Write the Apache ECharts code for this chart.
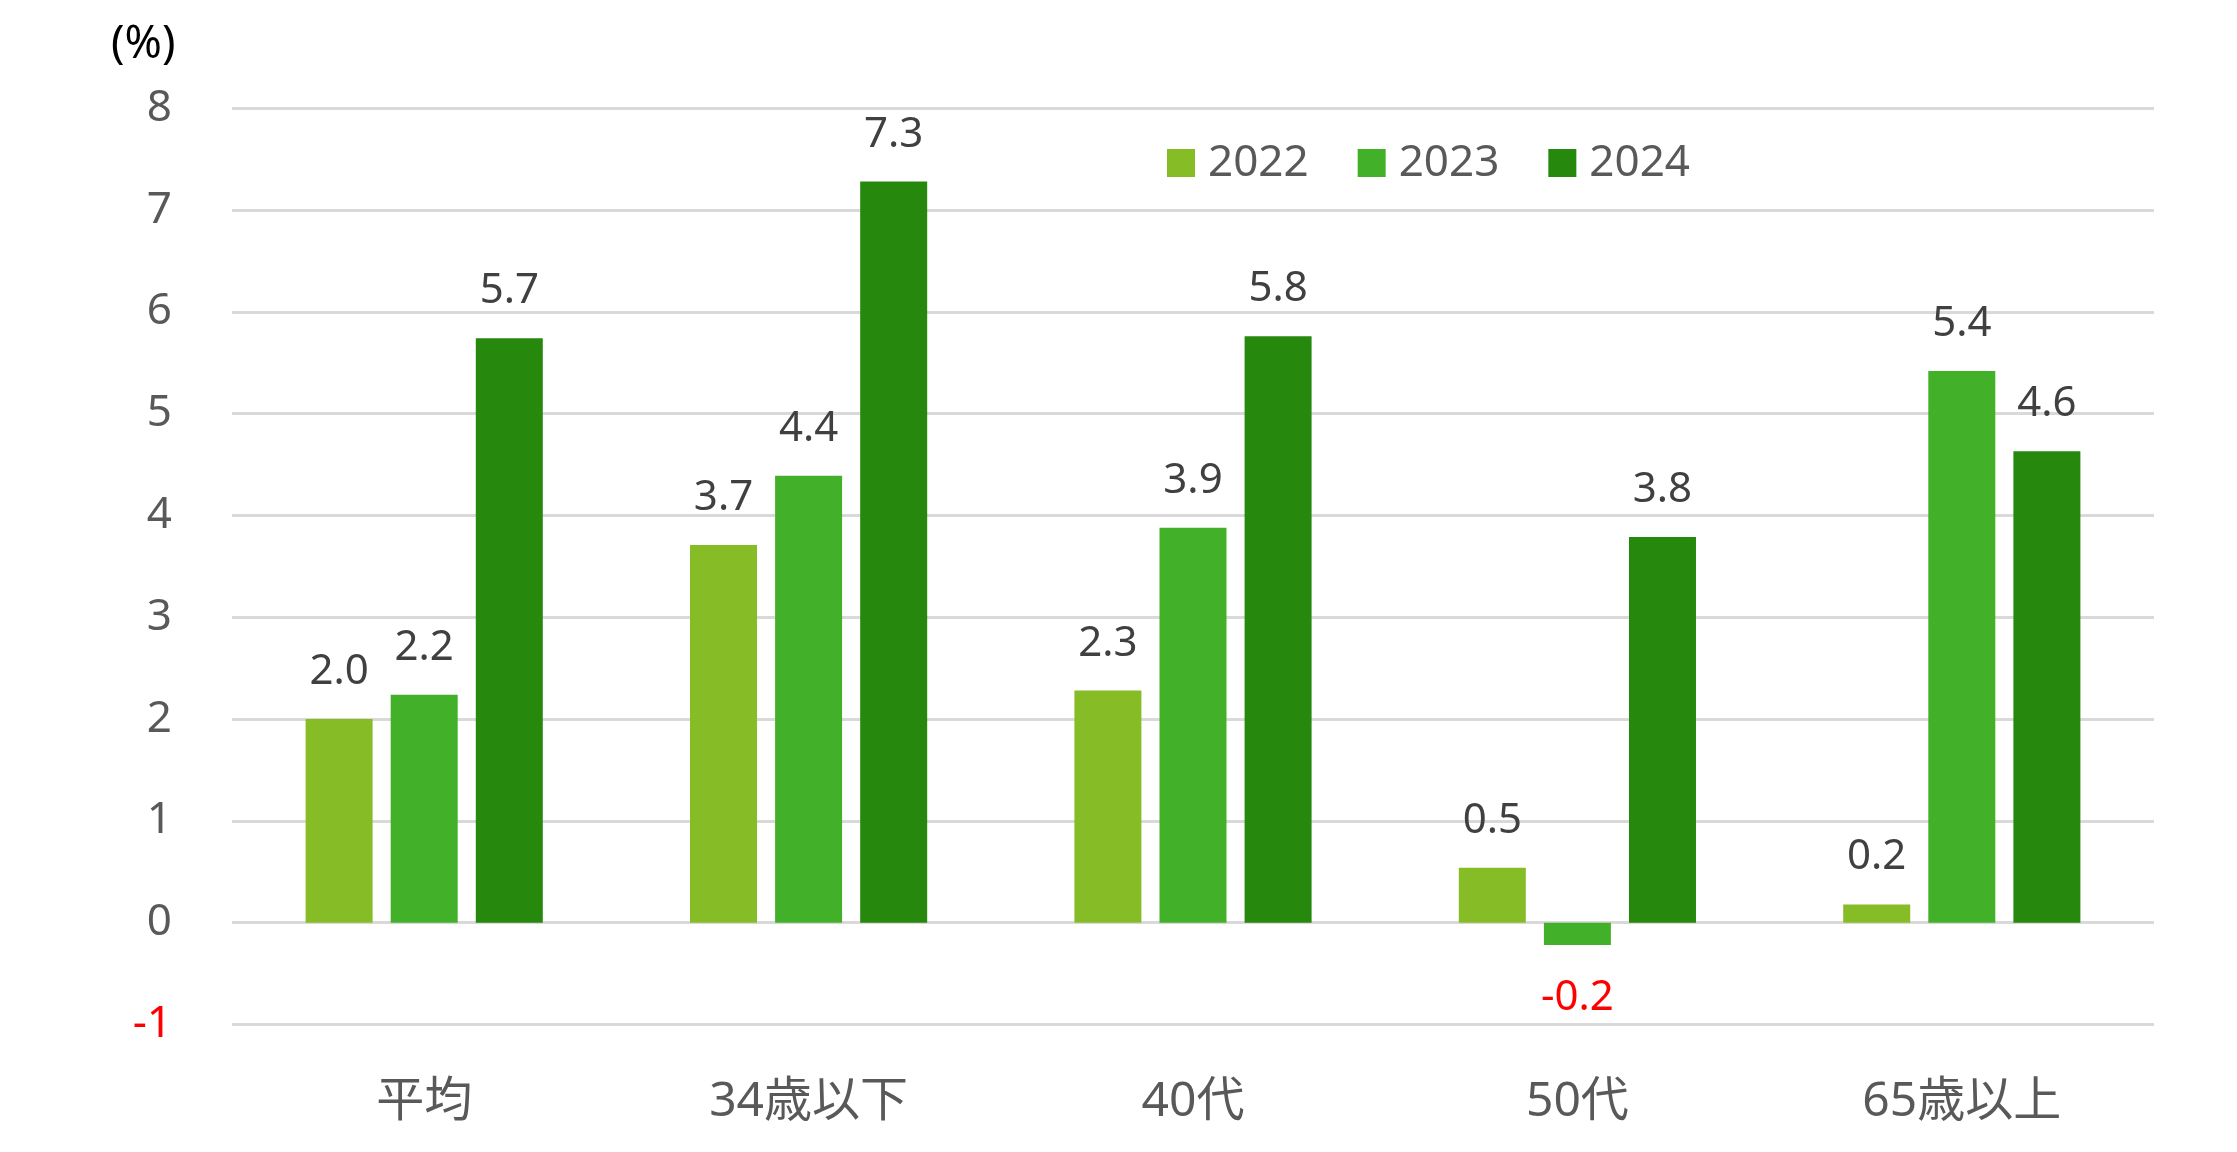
<!DOCTYPE html>
<html>
<head>
<meta charset="utf-8">
<script src="https://cdn.jsdelivr.net/npm/echarts@6/dist/echarts.min.js"></script>
<style>
html,body{margin:0;padding:0;background:#fff;}
#chart{width:2237px;height:1152px;}
</style>
</head>
<body>
<div id="chart"></div>
<script>
const categories = ['平均', '34歳以下', '40代', '50代', '65歳以上'];
const seriesNames = ['2022', '2023', '2024'];
const values2022 = [2.0, 3.71, 2.28, 0.54, 0.18];
const values2023 = [2.24, 4.39, 3.88, -0.22, 5.42];
const values2024 = [5.74, 7.28, 5.76, 3.79, 4.63];
const yTicks = { min: -1, max: 8, interval: 1 };
const colors = ['#86BC25', '#43B02A', '#26890D'];

const FONT = "'Noto Sans', 'Noto Sans CJK JP', sans-serif";

function toData(arr) {
  return arr.map(v => v < 0
    ? { value: v, label: { position: 'bottom', distance: 32, color: '#FF0000' } }
    : { value: v });
}

function makeSeries(name, arr, i) {
  return {
    name: name,
    type: 'bar',
    data: toData(arr),
    barWidth: 67,
    barGap: '27%',
    itemStyle: { color: colors[i] },
    label: {
      show: true,
      position: 'top',
      distance: 26,
      fontFamily: FONT,
      fontSize: 42,
      color: '#404040',
      formatter: p => p.value.toFixed(1)
    }
  };
}

const chart = echarts.init(document.getElementById('chart'), null, { renderer: 'canvas' });
chart.setOption({
  animation: false,
  backgroundColor: '#ffffff',
  textStyle: { fontFamily: FONT },
  title: {
    text: '(%)',
    left: 106,
    top: 18,
    textStyle: { fontFamily: FONT, fontSize: 45, fontWeight: 'normal', color: '#000000' }
  },
  legend: {
    data: seriesNames,
    left: 1162,
    top: 136,
    itemWidth: 28,
    itemHeight: 28,
    itemGap: 49,
    icon: 'rect',
    textStyle: { fontFamily: FONT, fontSize: 44, color: '#595959', padding: [0, 0, 0, 8], lineHeight: 44 }
  },
  grid: { left: 232, right: 83, top: 108.3, bottom: 127.5, containLabel: false },
  xAxis: {
    type: 'category',
    data: categories,
    axisLine: { show: false },
    axisTick: { show: false },
    axisLabel: { margin: 54, fontFamily: FONT, fontSize: 48, color: '#595959', lineHeight: 48 },
    splitLine: { show: false }
  },
  yAxis: {
    type: 'value',
    min: yTicks.min,
    max: yTicks.max,
    interval: yTicks.interval,
    axisLine: { show: false },
    axisTick: { show: false },
    axisLabel: {
      margin: 60,
      fontFamily: FONT,
      fontSize: 44,
      color: v => (v < 0 ? '#FF0000' : '#595959')
    },
    splitLine: { show: true, lineStyle: { color: '#D9D9D9', width: 3 } }
  },
  series: [
    makeSeries(seriesNames[0], values2022, 0),
    makeSeries(seriesNames[1], values2023, 1),
    makeSeries(seriesNames[2], values2024, 2)
  ]
});
</script>
</body>
</html>
